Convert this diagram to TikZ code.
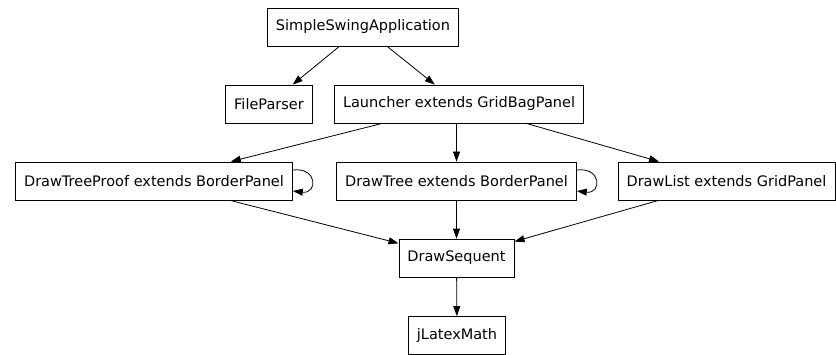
\documentclass[tikz,border=0pt]{standalone}
\usepackage{fontspec}
\setmainfont{DejaVu Sans}
\usetikzlibrary{arrows.meta}
\newcommand{\rowA}{327}
\newcommand{\rowB}{250}
\newcommand{\rowC}{173}
\newcommand{\rowD}{96}
\newcommand{\rowE}{18.5}
\newcommand{\bulge}{25pt}
\tikzset{
  cls/.style={draw, line width=0.8pt, inner xsep=8.5pt, inner ysep=0pt,
    minimum height=38pt, font=\fontsize{14.5}{17}\selectfont},
  uses/.style={draw, line width=0.8pt, -{Triangle[length=10pt,width=7pt]}},
}

\begin{document}
\begin{tikzpicture}[x=1pt,y=1pt]
    \useasboundingbox (0,0) rectangle (836,354);
    % --- --- --- Classes
    \node[cls] (app) at (363,\rowA) {SimpleSwingApplication};
    \node[cls] (parser) at (269,\rowB) {FileParser};
    \node[cls] (launcher) at (459,\rowB) {Launcher extends GridBagPanel};
    \node[cls] (proof) at (154,\rowC) {DrawTreeProof extends BorderPanel};
    \node[cls] (tree) at (456.5,\rowC) {DrawTree extends BorderPanel};
    \node[cls] (list) at (726.5,\rowC) {DrawList extends GridPanel};
    \node[cls] (sequent) at (456.5,\rowD) {DrawSequent};
    \node[cls] (latex) at (457,\rowE) {jLatexMath};
    % === === === Dependencies
    \draw[uses] (app) -- (parser);
    \draw[uses] (app) -- (launcher);
    \draw[uses] (launcher) -- (proof);
    \draw[uses] (launcher.south -| tree.north) -- (tree);
    \draw[uses] (launcher) -- (list);
    \draw[uses] (proof) -- (sequent);
    \draw[uses] (tree) -- (sequent);
    \draw[uses] (list) -- (sequent);
    \draw[uses] (sequent) -- (latex);
    % === === === Self loops
    \draw[uses] ([yshift=11pt]proof.east) .. controls +(\bulge,3pt) and +(\bulge,-3pt) .. ([yshift=-10pt]proof.east);
    \draw[uses] ([yshift=11pt]tree.east) .. controls +(\bulge,3pt) and +(\bulge,-3pt) .. ([yshift=-10pt]tree.east);
\end{tikzpicture}
\end{document}
